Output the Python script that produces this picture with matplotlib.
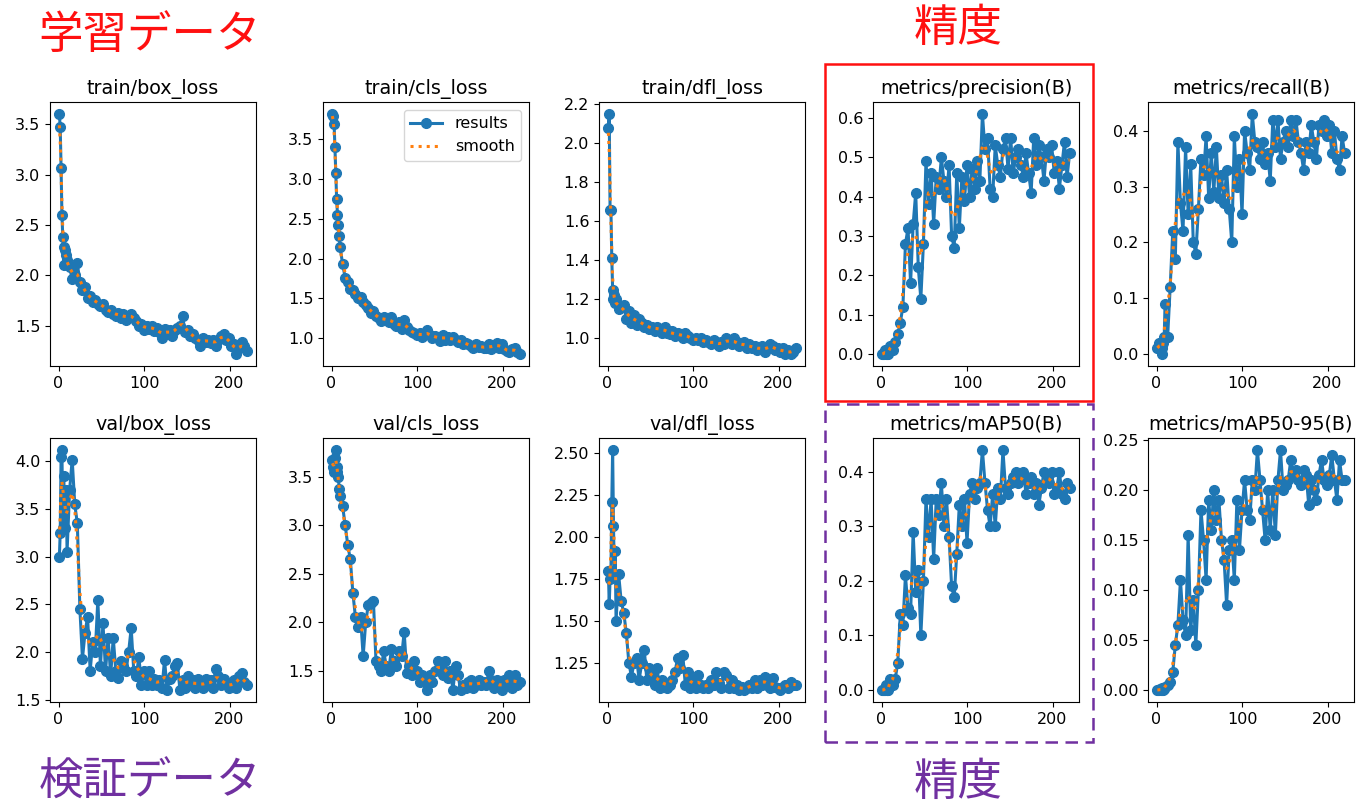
import numpy as np
import matplotlib
matplotlib.use("Agg")
from matplotlib import pyplot as plt
from matplotlib.patches import Rectangle
from matplotlib.ticker import MultipleLocator

# epochs: every epoch for the first 10, then every 3rd up to 220
epochs = list(range(1, 11)) + list(range(13, 221, 3))

titles = ["train/box_loss", "train/cls_loss", "train/dfl_loss",
          "metrics/precision(B)", "metrics/recall(B)",
          "val/box_loss", "val/cls_loss", "val/dfl_loss",
          "metrics/mAP50(B)", "metrics/mAP50-95(B)"]

train_box_loss = [3.60, 3.47, 3.06, 2.60, 2.38, 2.28, 2.10, 2.25, 2.20, 2.15,
                  2.08, 1.96, 2.00, 2.12, 1.93, 1.85, 1.88, 1.78, 1.80, 1.74,
                  1.76, 1.72, 1.70, 1.72, 1.66, 1.64, 1.66, 1.62, 1.60, 1.63,
                  1.58, 1.62, 1.56, 1.60, 1.62, 1.58, 1.55, 1.50, 1.52, 1.46,
                  1.50, 1.47, 1.50, 1.45, 1.48, 1.44, 1.38, 1.47, 1.42, 1.46,
                  1.40, 1.46, 1.48, 1.50, 1.60, 1.44, 1.46, 1.40, 1.42, 1.38,
                  1.36, 1.30, 1.38, 1.34, 1.36, 1.33, 1.36, 1.30, 1.36, 1.40,
                  1.42, 1.36, 1.38, 1.30, 1.32, 1.22, 1.28, 1.34, 1.30, 1.25]

train_cls_loss = [3.82, 3.80, 3.70, 3.40, 3.08, 2.75, 2.55, 2.42, 2.28, 2.15,
                  1.93, 1.76, 1.70, 1.62, 1.60, 1.55, 1.50, 1.52, 1.45, 1.42,
                  1.38, 1.32, 1.34, 1.28, 1.25, 1.22, 1.26, 1.24, 1.20, 1.26,
                  1.18, 1.15, 1.20, 1.12, 1.23, 1.14, 1.10, 1.08, 1.06, 1.04,
                  1.06, 1.02, 1.05, 1.10, 1.04, 1.00, 1.03, 1.02, 0.96, 1.04,
                  0.98, 1.02, 0.97, 1.01, 0.98, 0.95, 0.97, 0.93, 0.94, 0.92,
                  0.90, 0.88, 0.92, 0.89, 0.90, 0.87, 0.88, 0.92, 0.86, 0.90,
                  0.94, 0.88, 0.92, 0.86, 0.84, 0.82, 0.86, 0.88, 0.82, 0.80]

train_dfl_loss = [2.08, 2.15, 1.66, 1.66, 1.41, 1.25, 1.20, 1.22, 1.18, 1.20,
                  1.15, 1.16, 1.17, 1.10, 1.14, 1.08, 1.12, 1.07, 1.10, 1.08,
                  1.06, 1.07, 1.05, 1.06, 1.04, 1.06, 1.05, 1.03, 1.06, 1.03,
                  1.02, 1.04, 1.01, 1.03, 1.02, 1.00, 1.03, 1.01, 1.00, 0.99,
                  1.00, 0.99, 1.00, 0.98, 0.99, 0.98, 0.97, 0.99, 0.98, 0.96,
                  0.98, 0.97, 1.00, 0.99, 0.97, 1.00, 0.98, 0.96, 0.97, 0.98,
                  0.95, 0.97, 0.95, 0.96, 0.94, 0.95, 0.96, 0.93, 0.95, 0.97,
                  0.96, 0.94, 0.95, 0.93, 0.95, 0.92, 0.94, 0.92, 0.93, 0.95]

precision = [0.00, 0.00, 0.00, 0.01, 0.00, 0.00, 0.01, 0.00, 0.01, 0.02,
             0.01, 0.03, 0.05, 0.08, 0.12, 0.28, 0.32, 0.18, 0.33, 0.41,
             0.22, 0.14, 0.28, 0.49, 0.38, 0.46, 0.33, 0.45, 0.42, 0.50,
             0.44, 0.40, 0.48, 0.30, 0.27, 0.46, 0.32, 0.45, 0.39, 0.48,
             0.40, 0.47, 0.42, 0.49, 0.44, 0.61, 0.52, 0.55, 0.42, 0.40,
             0.53, 0.48, 0.45, 0.52, 0.55, 0.47, 0.55, 0.46, 0.50, 0.52,
             0.48, 0.45, 0.51, 0.46, 0.41, 0.55, 0.48, 0.53, 0.50, 0.44,
             0.52, 0.50, 0.53, 0.46, 0.49, 0.42, 0.48, 0.54, 0.45, 0.51]

recall = [0.01, 0.01, 0.02, 0.01, 0.02, 0.01, 0.00, 0.02, 0.03, 0.09,
          0.03, 0.12, 0.22, 0.17, 0.38, 0.27, 0.22, 0.37, 0.25, 0.34,
          0.20, 0.18, 0.26, 0.35, 0.32, 0.39, 0.28, 0.36, 0.29, 0.37,
          0.28, 0.32, 0.27, 0.33, 0.26, 0.20, 0.39, 0.30, 0.35, 0.25,
          0.40, 0.36, 0.33, 0.43, 0.38, 0.37, 0.35, 0.38, 0.34, 0.36,
          0.31, 0.42, 0.37, 0.42, 0.35, 0.38, 0.40, 0.37, 0.42, 0.39,
          0.42, 0.38, 0.36, 0.33, 0.38, 0.36, 0.41, 0.38, 0.35, 0.41,
          0.40, 0.42, 0.39, 0.41, 0.36, 0.40, 0.35, 0.33, 0.39, 0.36]

val_box_loss = [3.00, 3.25, 4.05, 4.12, 3.30, 3.85, 3.60, 3.30, 3.70, 3.05,
                3.70, 4.02, 3.55, 3.35, 2.45, 1.93, 2.20, 2.37, 1.80, 2.10,
                2.00, 2.55, 1.85, 2.30, 1.80, 2.15, 1.75, 2.15, 1.80, 1.73,
                1.90, 1.85, 1.80, 2.00, 2.25, 1.80, 1.75, 1.95, 1.65, 1.80,
                1.65, 1.80, 1.65, 1.72, 1.65, 1.70, 1.62, 1.92, 1.60, 1.72,
                1.75, 1.85, 1.88, 1.60, 1.70, 1.62, 1.75, 1.65, 1.70, 1.62,
                1.72, 1.65, 1.62, 1.72, 1.65, 1.70, 1.62, 1.82, 1.75, 1.65,
                1.72, 1.66, 1.62, 1.65, 1.70, 1.62, 1.75, 1.78, 1.68, 1.65]

val_cls_loss = [3.68, 3.60, 3.55, 3.70, 3.78, 3.60, 3.55, 3.50, 3.38, 3.30,
                3.20, 3.00, 2.80, 2.65, 2.30, 2.05, 1.95, 2.05, 1.65, 2.00,
                2.18, 2.20, 2.22, 1.60, 1.55, 1.50, 1.70, 1.55, 1.50, 1.72,
                1.60, 1.55, 1.70, 1.65, 1.90, 1.48, 1.55, 1.45, 1.60, 1.50,
                1.38, 1.45, 1.40, 1.30, 1.45, 1.38, 1.50, 1.60, 1.55, 1.45,
                1.60, 1.42, 1.50, 1.30, 1.55, 1.45, 1.30, 1.35, 1.32, 1.38,
                1.40, 1.32, 1.35, 1.40, 1.35, 1.38, 1.35, 1.50, 1.40, 1.32,
                1.40, 1.35, 1.30, 1.40, 1.38, 1.45, 1.32, 1.46, 1.35, 1.38]

val_dfl_loss = [1.80, 1.60, 1.75, 1.80, 2.21, 2.52, 2.07, 1.78, 1.92, 1.50,
                1.78, 1.62, 1.55, 1.43, 1.25, 1.17, 1.25, 1.28, 1.15, 1.25,
                1.33, 1.15, 1.22, 1.18, 1.12, 1.22, 1.10, 1.15, 1.13, 1.10,
                1.12, 1.15, 1.20, 1.28, 1.22, 1.30, 1.12, 1.20, 1.10, 1.15,
                1.10, 1.18, 1.12, 1.10, 1.12, 1.10, 1.15, 1.12, 1.20, 1.13,
                1.10, 1.20, 1.18, 1.10, 1.15, 1.10, 1.12, 1.09, 1.11, 1.09,
                1.10, 1.12, 1.10, 1.15, 1.10, 1.15, 1.12, 1.17, 1.12, 1.10,
                1.16, 1.11, 1.10, 1.09, 1.11, 1.12, 1.10, 1.14, 1.12, 1.12]

map50 = [0.00, 0.00, 0.00, 0.00, 0.01, 0.00, 0.00, 0.00, 0.01, 0.02,
         0.01, 0.02, 0.05, 0.14, 0.12, 0.21, 0.15, 0.14, 0.29, 0.18,
         0.22, 0.10, 0.20, 0.35, 0.28, 0.35, 0.24, 0.35, 0.32, 0.38,
         0.30, 0.35, 0.28, 0.19, 0.17, 0.25, 0.34, 0.30, 0.35, 0.27,
         0.36, 0.38, 0.35, 0.37, 0.38, 0.44, 0.38, 0.33, 0.30, 0.36,
         0.30, 0.37, 0.35, 0.44, 0.37, 0.36, 0.38, 0.39, 0.40, 0.38,
         0.39, 0.40, 0.36, 0.38, 0.39, 0.36, 0.38, 0.34, 0.37, 0.40,
         0.39, 0.38, 0.40, 0.36, 0.37, 0.40, 0.36, 0.35, 0.38, 0.37]

map50_95 = [0.000, 0.000, 0.000, 0.001, 0.000, 0.000, 0.002, 0.000, 0.001, 0.003,
            0.005, 0.008, 0.018, 0.045, 0.065, 0.110, 0.070, 0.055, 0.155, 0.060,
            0.090, 0.045, 0.100, 0.180, 0.150, 0.110, 0.190, 0.160, 0.200, 0.170,
            0.190, 0.150, 0.130, 0.085, 0.140, 0.150, 0.110, 0.190, 0.140, 0.180,
            0.210, 0.180, 0.170, 0.210, 0.200, 0.240, 0.210, 0.180, 0.150, 0.200,
            0.160, 0.200, 0.155, 0.210, 0.240, 0.200, 0.205, 0.210, 0.230, 0.215,
            0.220, 0.210, 0.205, 0.220, 0.215, 0.185, 0.210, 0.200, 0.190, 0.215,
            0.230, 0.210, 0.205, 0.215, 0.235, 0.210, 0.190, 0.230, 0.210, 0.210]

series = [train_box_loss, train_cls_loss, train_dfl_loss, precision, recall,
          val_box_loss, val_cls_loss, val_dfl_loss, map50, map50_95]


def gauss_smooth(y, sigma=1.2):
    r = int(4 * sigma + 0.5)
    k = np.exp(-0.5 * (np.arange(-r, r + 1) / sigma) ** 2)
    k /= k.sum()
    yp = np.pad(np.asarray(y, dtype=float), r, mode="symmetric")
    return np.convolve(yp, k, mode="valid")


W, H = 1371, 805
fig = plt.figure(figsize=(W / 100, H / 100), dpi=100)

lefts = [50, 323, 599, 873, 1148]
tops = [102, 438]
aw, ah = 206, 264

x = np.array(epochs)
for i, (name, y) in enumerate(zip(titles, series)):
    row, col = divmod(i, 5)
    ax = fig.add_axes([lefts[col] / W, 1 - (tops[row] + ah) / H, aw / W, ah / H])
    ax.plot(x, y, marker=".", label="results", linewidth=2.2, markersize=14,
            color="#1f77b4")
    ax.plot(x, gauss_smooth(y), ":", label="smooth", linewidth=2.2,
            color="#ff7f0e")
    ax.set_title(name, fontsize=13.8)
    ax.tick_params(labelsize=11.5)
    if name == "val/dfl_loss":
        ax.yaxis.set_major_locator(MultipleLocator(0.25))
    if i == 1:
        ax.legend(fontsize=11.5)

# annotations
red = "#ff1010"
purple = "#7030a0"
jp = ["Noto Sans CJK JP", "DejaVu Sans"]
fig.text(150 / W, 1 - 35 / H, "学習データ", color=red, fontsize=32,
         family=jp, ha="center", va="center")
fig.text(958 / W, 1 - 28 / H, "精度", color=red, fontsize=32,
         family=jp, ha="center", va="center")
fig.text(150 / W, 1 - 782 / H, "検証データ", color=purple, fontsize=32,
         family=jp, ha="center", va="center")
fig.text(958 / W, 1 - 782 / H, "精度", color=purple, fontsize=32,
         family=jp, ha="center", va="center")

fig.add_artist(Rectangle((825 / W, 1 - 401 / H), 268 / W, 337 / H,
                         transform=fig.transFigure, fill=False,
                         edgecolor=red, linewidth=1.8))
fig.add_artist(Rectangle((825 / W, 1 - 742 / H), 268 / W, 338 / H,
                         transform=fig.transFigure, fill=False,
                         edgecolor=purple, linewidth=1.8,
                         linestyle=(0, (5, 3))))

fig.savefig("out.png", dpi=100)
